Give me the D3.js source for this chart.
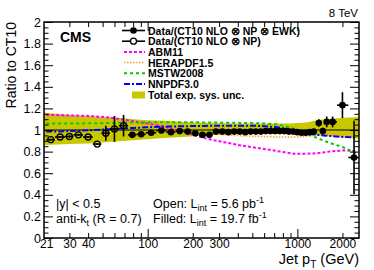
<!DOCTYPE html>
<html>
<head>
<meta charset="utf-8">
<script src="https://cdn.jsdelivr.net/npm/d3@7"></script>
<style>
  body { margin: 0; background: #fff; }
  svg text { font-family: "Liberation Sans", Arial, sans-serif; fill: #000; }
</style>
</head>
<body>
<svg id="chart" width="374" height="270"></svg>
<script>
// open markers, 5.6 pb-1 low pT run
const openPt = [22.5, 26, 30, 34.5, 40, 46, 52.5, 60, 69];
const openEdges = [21, 24, 28, 32, 37, 43, 49, 56, 64, 74];
const openRatio = [0.91, 0.935, 0.94, 0.955, 0.935, 0.87, 0.97, 1.01, 1.04];
const openErr = [0.01, 0.01, 0.01, 0.01, 0.01, 0.01, 0.07, 0.12, 0.1];

// filled markers, 19.7 fb-1
const filledPt = [79, 90.5, 105.5, 123.5, 143, 163.5, 185, 208, 232.5, 258.5, 286,
  315, 346, 378.5, 412.5, 449, 487.5, 527.5, 570, 615, 662, 711.5, 763.5, 818,
  875.5, 936, 999.5, 1066.5, 1136.5, 1210, 1287.5, 1390, 1480, 1570, 1720, 2000, 2390];
const filledEdges = [74, 84, 97, 114, 133, 153, 174, 196, 220, 245, 272, 300, 330,
  362, 395, 430, 468, 507, 548, 592, 638, 686, 737, 790, 846, 905, 967, 1032, 1101,
  1172, 1248, 1327, 1440, 1530, 1620, 1840, 2190, 2580];
const filledRatio = [0.955, 0.96, 0.975, 0.995, 0.98, 0.99, 0.985, 0.97, 0.955, 0.955,
  0.985, 0.985, 0.98, 0.985, 0.985, 0.98, 0.985, 0.985, 0.985, 0.99, 0.99, 0.99, 0.99,
  0.99, 0.985, 0.985, 0.98, 0.975, 0.975, 0.98, 0.985, 1.065, 0.99, 1.075, 1.075, 1.23, 0.745];
const filledErr = [0.005, 0.005, 0.005, 0.005, 0.005, 0.005, 0.005, 0.005, 0.005, 0.005,
  0.005, 0.005, 0.005, 0.005, 0.005, 0.005, 0.005, 0.005, 0.005, 0.005, 0.005, 0.005,
  0.005, 0.005, 0.005, 0.005, 0.005, 0.005, 0.008, 0.01, 0.012, 0.035, 0.03, 0.05, 0.05, 0.12, 0.34];

// total experimental systematic uncertainty band
const bandPt = [20.3, 25, 30, 40, 50, 65, 80, 100, 130, 170, 220, 300, 400, 600, 800,
  1000, 1200, 1400, 1700, 2200, 2580];
const bandHi = [1.16, 1.15, 1.14, 1.13, 1.12, 1.11, 1.1, 1.09, 1.085, 1.075, 1.07, 1.065,
  1.06, 1.06, 1.06, 1.065, 1.075, 1.095, 1.105, 1.115, 1.12];
const bandLo = [0.86, 0.865, 0.87, 0.875, 0.885, 0.895, 0.905, 0.915, 0.925, 0.935, 0.945,
  0.955, 0.96, 0.965, 0.965, 0.96, 0.955, 0.95, 0.94, 0.925, 0.92];

// PDF ratios to CT10
const pdfPt = [21, 30, 40, 55, 70, 90, 120, 150, 190, 240, 330, 450, 600, 770, 1000,
  1280, 1650, 2100, 2500];
const abm11 = [1.14, 1.135, 1.13, 1.115, 1.095, 1.07, 1.04, 1.005, 0.965, 0.925, 0.885,
  0.85, 0.825, 0.8, 0.78, 0.783, 0.8, 0.81, 0.805];
const hera15 = [1.13, 1.125, 1.12, 1.1, 1.08, 1.06, 1.03, 1.0, 0.98, 0.965, 0.955, 0.945,
  0.94, 0.935, 0.935, 0.95, 0.965, 0.96, 0.94];
const mstw08 = [1.06, 1.06, 1.062, 1.065, 1.068, 1.07, 1.072, 1.072, 1.072, 1.07, 1.068,
  1.065, 1.06, 1.045, 1.0, 0.94, 0.88, 0.83, 0.78];
const nnpdf30 = [0.985, 0.99, 0.997, 1.007, 1.015, 1.022, 1.03, 1.033, 1.036, 1.038, 1.04,
  1.04, 1.035, 1.02, 0.99, 0.96, 0.945, 0.935, 0.93];

// ticks
const yMajor = [0, 0.2, 0.4, 0.6, 0.8, 1, 1.2, 1.4, 1.6, 1.8, 2];
const xMajor = [100, 1000];
const xMinor = [30, 40, 50, 60, 70, 80, 90, 200, 300, 400, 500, 600, 700, 800, 900, 2000];
const xLabels = [21, 30, 40, 100, 200, 300, 1000, 2000];

const legendLabels = ["Data/(CT10 NLO \u2297 NP \u2297 EWK)", "Data/(CT10 NLO \u2297 NP)",
  "ABM11", "HERAPDF1.5", "MSTW2008", "NNPDF3.0", "Total exp. sys. unc."];

const svg = d3.select("#chart");
const margin = { top: 22, right: 15, bottom: 32, left: 44 };
const width = +svg.attr("width") - margin.left - margin.right;
const height = +svg.attr("height") - margin.top - margin.bottom;

const x = d3.scaleLog().domain([20.3, 2580]).range([0, width]);
const y = d3.scaleLinear().domain([0, 2]).range([height, 0]);

const g = svg.append("g").attr("transform", "translate(" + margin.left + "," + margin.top + ")");

svg.append("defs").append("clipPath").attr("id", "clip")
  .append("rect").attr("width", width).attr("height", height);

const plot = g.append("g").attr("clip-path", "url(#clip)");

// band
const band = bandPt.map((p, i) => ({ p: p, lo: bandLo[i], hi: bandHi[i] }));
plot.append("path")
  .datum(band)
  .attr("fill", "#c8c800")
  .attr("d", d3.area().x(d => x(d.p)).y0(d => y(d.lo)).y1(d => y(d.hi)).curve(d3.curveMonotoneX));

// CT10 reference line
plot.append("line")
  .attr("x1", 0).attr("x2", width).attr("y1", y(1)).attr("y2", y(1))
  .attr("stroke", "#000").attr("stroke-width", 1);

// PDF curves
const curves = [
  { vals: hera15, color: "#ff9933", dash: "1.5,1.5", w: 1.5 },
  { vals: abm11, color: "#ff00ff", dash: "3,2", w: 2 },
  { vals: mstw08, color: "#00cc00", dash: "3,3", w: 2 },
  { vals: nnpdf30, color: "#0000ff", dash: "6,2,2,2", w: 2 }
];
const line = d3.line().x(d => x(d[0])).y(d => y(d[1])).curve(d3.curveMonotoneX);
curves.forEach(c => {
  plot.append("path")
    .datum(pdfPt.map((p, i) => [p, c.vals[i]]))
    .attr("fill", "none")
    .attr("stroke", c.color)
    .attr("stroke-width", c.w)
    .attr("stroke-dasharray", c.dash)
    .attr("d", line);
});

// data points with error bars
const drawPoints = (pts, edges, vals, errs, filled) => {
  const data = pts.map((p, i) => ({ p: p, lo: edges[i], hi: edges[i + 1], v: vals[i], e: errs[i] }));
  const gp = plot.append("g");
  gp.selectAll(".ex").data(data).enter().append("line")
    .attr("x1", d => x(d.lo)).attr("x2", d => x(d.hi))
    .attr("y1", d => y(d.v)).attr("y2", d => y(d.v))
    .attr("stroke", "#000").attr("stroke-width", 1.6);
  gp.selectAll(".ey").data(data).enter().append("line")
    .attr("x1", d => x(d.p)).attr("x2", d => x(d.p))
    .attr("y1", d => y(d.v - d.e)).attr("y2", d => y(d.v + d.e))
    .attr("stroke", "#000").attr("stroke-width", 1.6);
  gp.selectAll("circle").data(data).enter().append("circle")
    .attr("cx", d => x(d.p)).attr("cy", d => y(d.v))
    .attr("r", filled ? 3.3 : 3)
    .attr("fill", filled ? "#000" : "none")
    .attr("stroke", "#000").attr("stroke-width", filled ? 0 : 1.3);
};
drawPoints(openPt, openEdges, openRatio, openErr, false);
drawPoints(filledPt, filledEdges, filledRatio, filledErr, true);

// axes, ROOT style ticks pointing inward
const yMinor = d3.range(0, 2.0001, 0.05).filter(v => Math.abs(v * 5 - Math.round(v * 5)) > 1e-6);
const styleAxis = sel => {
  sel.select(".domain").remove();
  sel.selectAll("line").attr("stroke", "#000").attr("stroke-width", 1);
};
g.append("g").call(d3.axisLeft(y).tickValues(yMajor).tickSize(-9).tickPadding(3)
    .tickFormat(d3.format("~g")))
  .call(styleAxis)
  .selectAll("text").attr("font-size", "12.5px").attr("font-family", "Liberation Sans, Arial, sans-serif");
g.append("g").call(d3.axisLeft(y).tickValues(yMinor).tickSize(-4.5).tickFormat(""))
  .call(styleAxis);
g.append("g").attr("transform", "translate(" + width + ",0)")
  .call(d3.axisRight(y).tickValues(yMajor).tickSize(-9).tickFormat(""))
  .call(styleAxis);
g.append("g").attr("transform", "translate(" + width + ",0)")
  .call(d3.axisRight(y).tickValues(yMinor).tickSize(-4.5).tickFormat(""))
  .call(styleAxis);

g.append("g").attr("transform", "translate(0," + height + ")")
  .call(d3.axisBottom(x).tickValues(xMajor).tickSize(-9).tickFormat(""))
  .call(styleAxis);
g.append("g").attr("transform", "translate(0," + height + ")")
  .call(d3.axisBottom(x).tickValues(xMinor).tickSize(-5).tickFormat(""))
  .call(styleAxis);
g.append("g").attr("transform", "translate(0," + height + ")")
  .call(d3.axisBottom(x).tickValues(xLabels).tickSize(0).tickPadding(1).tickFormat(d3.format("d")))
  .call(styleAxis)
  .selectAll("text").attr("font-size", "12px").attr("font-family", "Liberation Sans, Arial, sans-serif");
g.append("g")
  .call(d3.axisTop(x).tickValues(xMajor).tickSize(-9).tickFormat(""))
  .call(styleAxis);
g.append("g")
  .call(d3.axisTop(x).tickValues(xMinor).tickSize(-5).tickFormat(""))
  .call(styleAxis);

// frame
g.append("rect").attr("width", width).attr("height", height)
  .attr("fill", "none").attr("stroke", "#000").attr("stroke-width", 1.5);

// axis titles
svg.append("text")
  .attr("transform", "translate(15.5," + margin.top + ") rotate(-90)")
  .attr("text-anchor", "end").attr("font-size", "14px")
  .text("Ratio to CT10");
const xt = svg.append("text")
  .attr("x", margin.left + width).attr("y", 264)
  .attr("text-anchor", "end").attr("font-size", "14.5px");
xt.append("tspan").text("Jet p");
xt.append("tspan").attr("dy", 4).attr("font-size", "10px").text("T");
xt.append("tspan").attr("dy", -4).text(" (GeV)");

// labels
svg.append("text").attr("x", 60).attr("y", 42).attr("font-size", "14px")
  .attr("font-weight", "bold").text("CMS");
svg.append("text").attr("x", margin.left + width - 1).attr("y", 16.5).attr("text-anchor", "end")
  .attr("font-size", "11.5px").text("8 TeV");

svg.append("text").attr("x", 56).attr("y", 208).attr("font-size", "12.5px").text("|y| < 0.5");
const ak = svg.append("text").attr("x", 56).attr("y", 222.5).attr("font-size", "12.5px");
ak.append("tspan").text("anti-k");
ak.append("tspan").attr("dy", 3).attr("font-size", "9px").text("t");
ak.append("tspan").attr("dy", -3).text(" (R = 0.7)");

const lumi = (yy, lead, val, unit) => {
  const t = svg.append("text").attr("x", 153).attr("y", yy).attr("font-size", "12.5px");
  t.append("tspan").text(lead + " L");
  t.append("tspan").attr("dy", 3).attr("font-size", "9px").text("int");
  t.append("tspan").attr("dy", -3).text(" = " + val + " " + unit);
  t.append("tspan").attr("dy", -5).attr("font-size", "9px").text("-1");
};
lumi(208, "Open:", "5.6", "pb");
lumi(223, "Filled:", "19.7", "fb");

// legend
const legY = [30.5, 41.2, 51.9, 62.6, 73.3, 84, 95];
const lg = svg.append("g");
legendLabels.forEach((lab, i) => {
  lg.append("text").attr("x", 148).attr("y", legY[i] + 4)
    .attr("font-size", "10.5px").attr("font-weight", "bold").text(lab);
});
[0, 1].forEach(i => {
  lg.append("line").attr("x1", 122).attr("x2", 145).attr("y1", legY[i]).attr("y2", legY[i])
    .attr("stroke", "#000").attr("stroke-width", 1.6);
  lg.append("circle").attr("cx", 133.5).attr("cy", legY[i]).attr("r", i === 0 ? 3.3 : 3)
    .attr("fill", i === 0 ? "#000" : "#fff").attr("stroke", "#000").attr("stroke-width", i === 0 ? 0 : 1.3);
});
[curves[1], curves[0], curves[2], curves[3]].forEach((c, k) => {
  lg.append("line").attr("x1", 124).attr("x2", 145).attr("y1", legY[k + 2]).attr("y2", legY[k + 2])
    .attr("stroke", c.color).attr("stroke-width", c.w).attr("stroke-dasharray", c.dash);
});
lg.append("rect").attr("x", 132).attr("y", legY[6] - 3.5).attr("width", 13).attr("height", 7)
  .attr("fill", "#c8c800");
</script>
</body>
</html>
